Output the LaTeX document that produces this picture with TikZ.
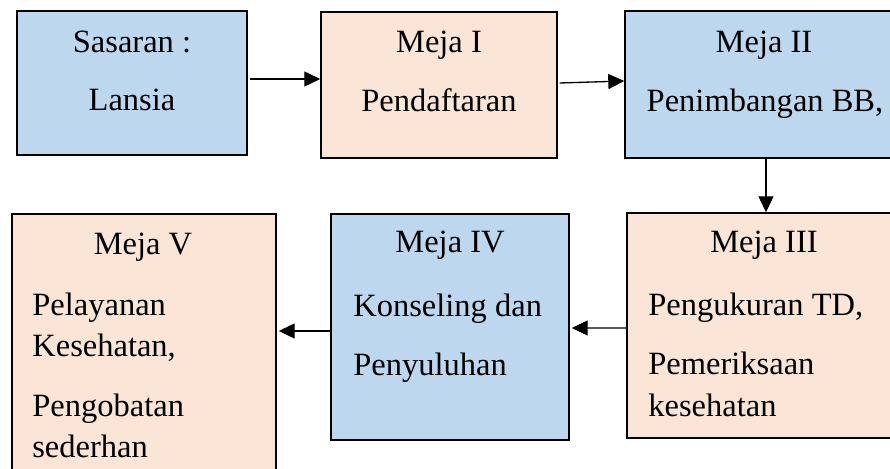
\documentclass[tikz,border=0pt]{standalone}
\usepackage{fontspec}
\setmainfont{Liberation Serif}
\usetikzlibrary{arrows.meta}
\definecolor{mejablue}{HTML}{BDD7EE}
\definecolor{mejapeach}{HTML}{FBE5D6}
\begin{document}
\begin{tikzpicture}[x=0.02cm,y=-0.02cm,
      font=\fontsize{18.5}{22}\selectfont,
      every node/.style={inner sep=0pt},
      meja/.style={draw,line width=0.85pt},
      panah/.style={-{Triangle[length=0.32cm,width=0.3cm]},line width=0.75pt}]
      \useasboundingbox (0,0) rectangle (890,469);
      \path (132,83) node[meja,fill=mejablue,minimum width=4.6cm,minimum height=2.88cm] (sasaran) {};
      \path (439,85) node[meja,fill=mejapeach,minimum width=4.72cm,minimum height=2.92cm] (m1) {};
      \path (764,84.5) node[meja,fill=mejablue,minimum width=5.56cm,minimum height=2.94cm] (m2) {};
      \path (764,325.5) node[meja,fill=mejapeach,minimum width=5.48cm,minimum height=4.5cm] (m3) {};
      \path (450,327) node[meja,fill=mejablue,minimum width=4.76cm,minimum height=4.52cm] (m4) {};
      \path (144,354) node[meja,fill=mejapeach,minimum width=5.28cm,minimum height=5.6cm] (m5) {};
      \draw[panah] ([shift={(2,-4)}]sasaran.east) -- ([shift={(0,-6)}]m1.west);
      \draw[panah] ([shift={(2,-2)}]m1.east) -- ([shift={(0,-3.5)}]m2.west);
      \draw[panah] ([shift={(2,0)}]m2.south) -- ([shift={(2,0)}]m3.north);
      \draw[panah] ([shift={(0,2.5)}]m3.west) -- ([shift={(2,1)}]m4.east);
      \draw[panah] ([shift={(0,4)}]m4.west) -- ([shift={(2,-23)}]m5.east);
      \path (132,53) node[anchor=base] (sasaranA) {Sasaran :};
      \path (132,111) node[anchor=base] (sasaranB) {Lansia};
      \path (439,53) node[anchor=base] (m1A) {Meja I};
      \path (439,112) node[anchor=base] (m1B) {Pendaftaran};
      \path (764,53) node[anchor=base] (m2A) {Meja II};
      \path (765,112) node[anchor=base] (m2B) {Penimbangan BB,};
      \path (764,253) node[anchor=base] (m3A) {Meja III};
      \path (648,316) node[anchor=base west] (m3B) {Pengukuran TD,};
      \path (648,375) node[anchor=base west] (m3C) {Pemeriksaan};
      \path (648,417) node[anchor=base west] (m3D) {kesehatan};
      \path (450,253) node[anchor=base] (m4A) {Meja IV};
      \path (353,317) node[anchor=base west] (m4B) {Konseling dan};
      \path (353,376) node[anchor=base west] (m4C) {Penyuluhan};
      \path (143,255) node[anchor=base] (m5A) {Meja V};
      \path (32,316) node[anchor=base west] (m5B) {Pelayanan};
      \path (32,357) node[anchor=base west] (m5C) {Kesehatan,};
      \path (32,417) node[anchor=base west] (m5D) {Pengobatan};
      \path (32,458) node[anchor=base west] (m5E) {sederhan};
\end{tikzpicture}
\end{document}
